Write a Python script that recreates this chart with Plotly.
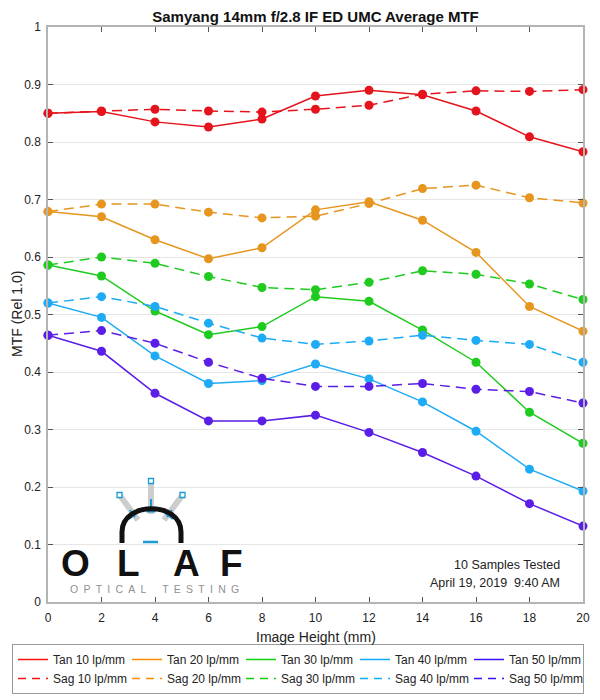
import plotly.graph_objects as go

# ---------------- data ----------------
image_height = [0, 2, 4, 6, 8, 10, 12, 14, 16, 18, 20]

tan10 = [0.850, 0.853, 0.835, 0.826, 0.840, 0.880, 0.890, 0.882, 0.854, 0.809, 0.783]
sag10 = [0.850, 0.854, 0.857, 0.854, 0.852, 0.857, 0.864, 0.883, 0.889, 0.888, 0.891]
tan20 = [0.679, 0.670, 0.630, 0.597, 0.616, 0.682, 0.696, 0.664, 0.608, 0.514, 0.471]
sag20 = [0.679, 0.692, 0.692, 0.678, 0.668, 0.671, 0.693, 0.719, 0.725, 0.703, 0.694]
tan30 = [0.586, 0.567, 0.506, 0.465, 0.479, 0.531, 0.523, 0.473, 0.417, 0.330, 0.276]
sag30 = [0.586, 0.600, 0.589, 0.566, 0.547, 0.543, 0.556, 0.576, 0.570, 0.553, 0.526]
tan40 = [0.520, 0.495, 0.428, 0.380, 0.385, 0.414, 0.388, 0.348, 0.297, 0.231, 0.193]
sag40 = [0.520, 0.531, 0.514, 0.485, 0.459, 0.448, 0.454, 0.464, 0.455, 0.448, 0.417]
tan50 = [0.464, 0.436, 0.363, 0.315, 0.315, 0.325, 0.295, 0.260, 0.219, 0.171, 0.132]
sag50 = [0.464, 0.472, 0.450, 0.417, 0.389, 0.375, 0.375, 0.380, 0.370, 0.366, 0.346]

frequencies = ["10 lp/mm", "20 lp/mm", "30 lp/mm", "40 lp/mm", "50 lp/mm"]
tan_series = [tan10, tan20, tan30, tan40, tan50]
sag_series = [sag10, sag20, sag30, sag40, sag50]

y_tick_vals = [0, 0.1, 0.2, 0.3, 0.4, 0.5, 0.6, 0.7, 0.8, 0.9, 1.0]
y_tick_text = ["0", "0.1", "0.2", "0.3", "0.4", "0.5", "0.6", "0.7", "0.8", "0.9", "1"]
x_tick_vals = [0, 2, 4, 6, 8, 10, 12, 14, 16, 18, 20]

title_text = "Samyang 14mm f/2.8 IF ED UMC Average MTF"
note_lines = ["10 Samples Tested", "April 19, 2019\u00a0\u00a09:40 AM"]

# ---------------- style ----------------
colors = ["#e5131b", "#e6961e", "#1ecb1e", "#1eabf5", "#5a1ee6"]
legend_colors = ["#ff1010", "#ff8c00", "#10d010", "#10aaff", "#3a10ff"]
FONT = "Liberation Sans, Arial, sans-serif"

# the page body has an 8px default margin, so the figure is drawn 8px in
OFF = 8
W, H = 600 - OFF, 700 - OFF
PLOT_L, PLOT_R, PLOT_T, PLOT_B = 48, 583, 27, 602  # page pixels
ML, MT = PLOT_L - OFF, PLOT_T - OFF
MR = W - (PLOT_R - OFF)
MB = H - (PLOT_B - OFF)
PW, PH = W - ML - MR, H - MT - MB


def px(x):
    return (x - PLOT_L) / PW


def py(y):
    return (PLOT_B - y) / PH


fig = go.Figure()

for i in range(5):
    fig.add_trace(go.Scatter(
        x=image_height, y=tan_series[i], mode="lines+markers",
        line=dict(color=colors[i], width=1.5),
        marker=dict(color=colors[i], size=9),
        showlegend=False, cliponaxis=False, hoverinfo="skip"))
    fig.add_trace(go.Scatter(
        x=image_height, y=sag_series[i], mode="lines+markers",
        line=dict(color=colors[i], width=1.5, dash="10px,6px"),
        marker=dict(color=colors[i], size=9),
        showlegend=False, cliponaxis=False, hoverinfo="skip"))

# legend entries (line only)
for i in range(5):
    fig.add_trace(go.Scatter(x=[None], y=[None], mode="lines",
                             line=dict(color=legend_colors[i], width=1.5),
                             name="Tan " + frequencies[i]))
for i in range(5):
    fig.add_trace(go.Scatter(x=[None], y=[None], mode="lines",
                             line=dict(color=legend_colors[i], width=1.5, dash="8px,6px"),
                             name="Sag " + frequencies[i]))

# ---------------- logo shapes ----------------
shapes = []
gray = "#cdcdcd"
blue = "#1b9ad8"


def seg(x0, y0, x1, y1, color, width):
    shapes.append(dict(type="line", xref="paper", yref="paper",
                       x0=px(x0), y0=py(y0), x1=px(x1), y1=py(y1),
                       line=dict(color=color, width=width), layer="above"))


# sticks
seg(151, 479, 151, 514, gray, 6)
seg(119.5, 495, 138, 520, gray, 6)
seg(182.5, 495, 164, 520, gray, 6)
# blue marks on sticks
seg(151, 499, 151, 511, blue, 2)
seg(146.5, 511.5, 155.5, 511.5, blue, 2)
seg(130, 510, 135, 517, blue, 2)
seg(129, 519, 137, 513, blue, 2)
seg(172, 510, 167, 517, blue, 2)
seg(173, 519, 165, 513, blue, 2)
# small squares at tops
for cx, cy in [(151, 481), (119.5, 495), (182.5, 495)]:
    shapes.append(dict(type="rect", xref="paper", yref="paper",
                       x0=px(cx - 2.5), x1=px(cx + 2.5), y0=py(cy + 2.5), y1=py(cy - 2.5),
                       line=dict(color=blue, width=1.3), fillcolor="white", layer="above"))
# arch
arch = (f"M {px(122)},{py(543)} L {px(122)},{py(532)} "
        f"C {px(122)},{py(501)} {px(181)},{py(501)} {px(181)},{py(532)} "
        f"L {px(181)},{py(543)}")
shapes.append(dict(type="path", xref="paper", yref="paper", path=arch,
                   line=dict(color="#111111", width=5), layer="above"))
# blue dash
seg(143, 542, 158, 542, blue, 2.5)

# ---------------- annotations ----------------
annotations = []
for letter, cx in [("O", 75), ("L", 128), ("A", 186), ("F", 231)]:
    annotations.append(dict(text=letter, xref="paper", yref="paper", x=px(cx), y=py(563),
                            xanchor="center", yanchor="middle", showarrow=False,
                            font=dict(family="Liberation Sans Narrow, Liberation Sans, Arial",
                                      size=37, color="#111111", weight="bold")))
annotations.append(dict(text="O\u2002P\u2002T\u2002I\u2002C\u2002A\u2002L\u2002\u2002\u2002T\u2002E\u2002S\u2002T\u2002I\u2002N\u2002G",
                        xref="paper", yref="paper", x=px(68), y=py(589),
                        xanchor="left", yanchor="middle", showarrow=False,
                        font=dict(family=FONT, size=10.5, color="#909090")))
annotations.append(dict(text=note_lines[0], xref="paper", yref="paper", x=px(562), y=py(565),
                        xanchor="right", yanchor="middle", showarrow=False,
                        font=dict(family=FONT, size=12.5, color="#222222")))
annotations.append(dict(text=note_lines[1], xref="paper", yref="paper", x=px(562), y=py(583),
                        xanchor="right", yanchor="middle", showarrow=False,
                        font=dict(family=FONT, size=12.5, color="#222222")))
annotations.append(dict(text="Image Height (mm)", xref="paper", yref="paper", x=px(315.5), y=py(637),
                        xanchor="center", yanchor="middle", showarrow=False,
                        font=dict(family=FONT, size=14, color="#222222")))
annotations.append(dict(text="MTF (Rel 1.0)", xref="paper", yref="paper", x=px(17), y=py(314),
                        xanchor="center", yanchor="middle", showarrow=False, textangle=-90,
                        font=dict(family=FONT, size=14, color="#222222")))

fig.update_layout(
    width=W, height=H,
    margin=dict(l=ML, r=MR, t=MT, b=MB, autoexpand=False),
    paper_bgcolor="white", plot_bgcolor="white",
    title=dict(text="<b>" + title_text + "</b>", x=0.5, xref="paper",
               y=1 - (17 - OFF) / H, yref="container", xanchor="center", yanchor="middle",
               font=dict(family=FONT, size=15, color="#111111")),
    xaxis=dict(range=[0, 20], tickvals=x_tick_vals, showgrid=False, zeroline=False,
               showline=True, mirror="ticks", linecolor="#b4b4b4", linewidth=1.5,
               ticks="inside", ticklen=5, tickcolor="#555555", tickwidth=1,
               ticklabelstandoff=4, automargin=False,
               tickfont=dict(family=FONT, size=12, color="#222222")),
    yaxis=dict(range=[0, 1], tickvals=y_tick_vals, ticktext=y_tick_text,
               showgrid=True, gridcolor="#e6e6e6", gridwidth=1, zeroline=False,
               showline=True, mirror="ticks", linecolor="#b4b4b4", linewidth=1.5,
               ticks="inside", ticklen=5, tickcolor="#555555", tickwidth=1,
               ticklabelstandoff=3, automargin=False,
               tickfont=dict(family=FONT, size=12, color="#222222")),
    legend=dict(orientation="h", x=px(12), y=py(644), xanchor="left", yanchor="top",
                xref="paper", yref="paper",
                bordercolor="#9a9a9a", borderwidth=1, bgcolor="white",
                entrywidth=69, entrywidthmode="pixels",
                font=dict(family=FONT, size=12, color="#222222"),
                tracegroupgap=0),
    shapes=shapes,
    annotations=annotations,
)

fig.write_html("out.html")
